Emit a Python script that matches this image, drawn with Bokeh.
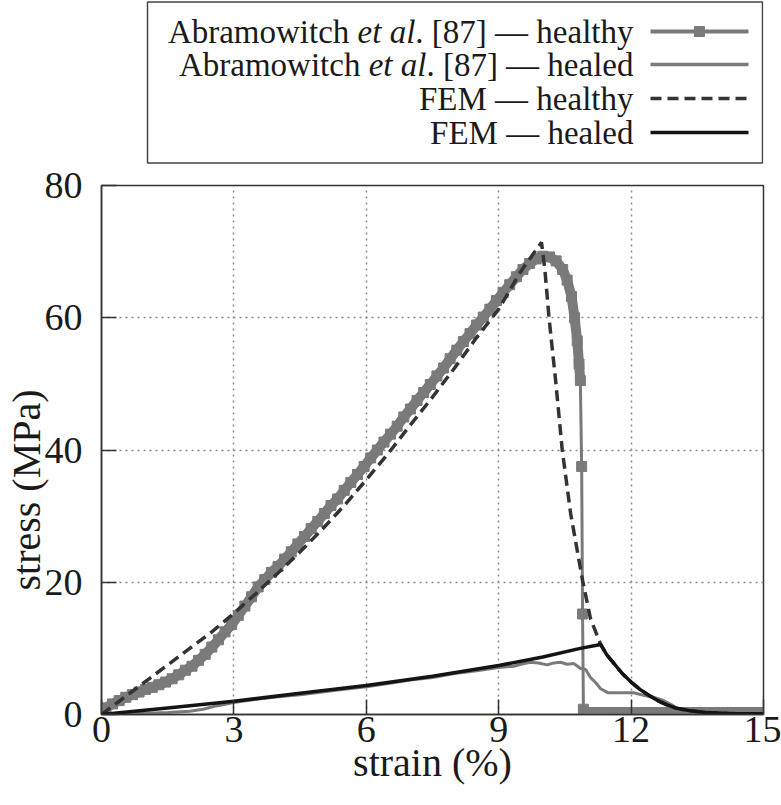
from bokeh.plotting import figure
from bokeh.models import Range1d, FixedTicker
from bokeh.layouts import column
from bokeh.core.properties import value
from bokeh.embed import file_html
from bokeh.resources import INLINE

# ---------------- data ----------------
exp_healthy_strain = [0.00, 0.10, 0.25, 0.40, 0.55, 0.70, 0.85, 1.00, 1.15, 1.30, 1.45, 1.60, 1.75, 1.90,
                      2.05, 2.20, 2.35, 2.50, 2.65, 2.80, 2.95, 3.10, 3.25, 3.40, 3.55, 3.70, 3.85, 4.00,
                      4.15, 4.30, 4.45, 4.60, 4.75, 4.90, 5.05, 5.20, 5.35, 5.50, 5.65, 5.80, 5.95, 6.10,
                      6.25, 6.40, 6.55, 6.70, 6.85, 7.00, 7.15, 7.30, 7.45, 7.60, 7.75, 7.90, 8.05, 8.20,
                      8.35, 8.50, 8.65, 8.80, 8.95, 9.10, 9.25, 9.40, 9.55, 9.70, 9.85, 10.00, 10.15, 10.30,
                      10.45, 10.55, 10.65, 10.72, 10.78, 10.82, 10.85, 10.88, 10.90, 10.92,
                      11.1, 11.3, 11.5, 11.7, 11.9, 12.1, 12.3, 12.5, 12.7, 12.9, 13.1, 13.3, 13.5, 13.7,
                      13.9, 14.1, 14.3, 14.5, 14.7, 14.9, 15.0]
exp_healthy_stress = [0.3, 1.0, 1.6, 2.1, 2.6, 3.0, 3.4, 3.8, 4.1, 4.5, 4.9, 5.4, 6.0, 6.7,
                      7.3, 8.2, 9.1, 10.2, 11.3, 12.5, 13.6, 15.0, 16.4, 17.8, 19.3, 20.4, 21.5, 22.4,
                      23.5, 24.6, 25.8, 26.9, 28.1, 29.2, 30.4, 31.6, 32.6, 33.9, 35.1, 36.3, 37.5, 38.8,
                      40.0, 41.2, 42.4, 43.6, 45.0, 46.2, 47.5, 48.7, 49.9, 51.2, 52.4, 53.8, 55.1, 56.4,
                      57.6, 58.9, 60.1, 61.3, 62.6, 63.8, 65.0, 66.2, 67.3, 68.2, 68.9, 69.3, 69.2, 68.6,
                      67.3, 65.7, 63.2, 60.0, 56.5, 53.0, 50.5, 37.5, 15.2, 0.8,
                      0.3, 0.3, 0.3, 0.3, 0.3, 0.3, 0.3, 0.3, 0.3, 0.3, 0.3, 0.3, 0.3, 0.3,
                      0.3, 0.3, 0.3, 0.3, 0.3, 0.3, 0.3]
N_BAND = 77  # points of the densely sampled (thick band) part, up to the drop

exp_healed_strain = [0.0, 0.5, 1.0, 1.5, 2.0, 2.3, 2.6, 3.0, 3.5, 4.0, 4.5, 5.0, 5.5, 6.0, 6.5, 7.0,
                     7.5, 8.0, 8.5, 9.0, 9.34, 9.5, 9.72, 9.9, 10.1, 10.25, 10.4, 10.55, 10.7, 10.85,
                     10.97, 11.08, 11.2, 11.31, 11.47, 11.8, 12.06, 12.28, 12.5, 12.7, 12.96, 13.1,
                     13.25, 15.0]
exp_healed_stress = [0.0, 0.1, 0.2, 0.3, 0.5, 0.8, 1.3, 1.8, 2.3, 2.7, 3.0, 3.4, 3.8, 4.2, 4.7, 5.2,
                     5.6, 6.2, 6.6, 7.1, 7.3, 7.6, 7.9, 7.8, 7.5, 7.8, 7.9, 7.6, 7.7, 7.0,
                     6.8, 5.6, 4.8, 3.9, 3.3, 3.3, 3.3, 2.9, 2.6, 2.2, 1.3, 0.5,
                     0.1, 0.1]

fem_healthy_strain = [0.0, 0.5, 1.0, 1.5, 2.0, 2.5, 3.0, 3.5, 4.0, 4.5, 5.0, 5.5, 6.0, 6.5, 7.0, 7.5,
                      8.0, 8.5, 9.0, 9.5, 9.97, 10.05, 10.14, 10.29, 10.44, 10.63, 10.9, 11.08, 11.31,
                      11.45, 11.6, 11.8, 12.0, 12.2, 12.4, 12.6, 12.8, 13.0, 13.3, 13.7, 14.2, 15.0]
fem_healthy_stress = [0.0, 2.5, 5.0, 7.5, 10.0, 12.5, 15.3, 18.3, 21.4, 24.6, 28.0, 31.6, 35.5, 39.5,
                      43.8, 48.0, 52.4, 57.0, 61.3, 67.0, 71.4, 67.0, 60.0, 50.5, 40.0, 30.4, 20.3,
                      14.5, 10.6, 9.0, 7.8, 6.2, 4.9, 3.8, 2.9, 2.1, 1.5, 1.0, 0.6, 0.3, 0.15, 0.1]

fem_healed_strain = [0.0, 1.5, 3.0, 4.5, 6.0, 7.5, 9.0, 10.0, 10.85, 11.31, 11.45, 11.6, 11.8, 12.0,
                     12.2, 12.4, 12.6, 12.8, 13.0, 13.3, 13.7, 14.2, 15.0]
fem_healed_stress = [0.0, 1.0, 2.0, 3.2, 4.4, 5.8, 7.4, 8.7, 10.0, 10.6, 9.0, 7.8, 6.2, 4.9,
                     3.8, 2.9, 2.1, 1.5, 1.0, 0.6, 0.3, 0.15, 0.1]

x_ticks = [0, 3, 6, 9, 12, 15]
y_ticks = [0, 20, 40, 60, 80]
x_label = "strain (%)"
y_label = "stress (MPa)"

legend_rows = [
    ["Abramowitch", "et al", ". [87] \u2014 healthy"],
    ["Abramowitch", "et al", ". [87] \u2014 healed"],
    ["FEM \u2014 healthy"],
    ["FEM \u2014 healed"],
]

# ---------------- styles ----------------
FONT = "Liberation Serif"
GREY = "#7a7a7a"
DARK = "#333333"
BLACK = "#141414"
LEG_FS = 33
TICK_FS = "38px"
LABEL_FS = "40px"
Y_LABEL_PAD = "\u00a0" * 8   # the reference's y label sits below the frame centre

W = 781
H_LEG = 164
H_MAIN = 641
BL, BR = 101, 18          # left / right borders shared by both panels
FL, FR = BL, W - BR        # frame extent in picture pixels

# ---------------- legend panel (data coordinates = picture pixels) ----------------
leg = figure(width=W, height=H_LEG, x_range=Range1d(FL, FR), y_range=Range1d(H_LEG, 0),
             toolbar_location=None, output_backend="svg",
             min_border_left=BL, min_border_right=BR, min_border_top=0, min_border_bottom=0,
             x_axis_location=None, y_axis_location=None, outline_line_color=None)
leg.xgrid.visible = False
leg.ygrid.visible = False
leg.quad(left=[147], right=[FR - 1], top=[1.5], bottom=[H_LEG - 1.5], fill_color=None,
         line_color="#444444", line_width=1.5)

# Times-metric widths (em/1000) for composing the mixed roman/italic rows
W_ABR = 5499
W_SP = 250
W_ETAL = 1750
W_R1 = 6610
W_R2 = 6276
row_y = [31, 64, 98, 132]
tx = 633
sc = LEG_FS / 1000.0

def txt(x, y, s, align="left", style="normal"):
    leg.text(x=[x], y=[y], text=[s], text_font=value(FONT), text_font_size=value(f"{LEG_FS}px"),
             text_align=align, text_baseline="middle", text_font_style=style, text_color="#1a1a1a")

for i, wr in enumerate([W_R1, W_R2]):
    y = row_y[i]
    x0 = tx - (W_ABR + W_SP + W_ETAL + wr) * sc
    txt(x0, y, legend_rows[i][0])
    txt(x0 + (W_ABR + W_SP) * sc, y, legend_rows[i][1], style="italic")
    txt(x0 + (W_ABR + W_SP + W_ETAL) * sc, y, legend_rows[i][2])
txt(tx, row_y[2], legend_rows[2][0], align="right")
txt(tx, row_y[3], legend_rows[3][0], align="right")

lx = [650, 748]
leg.line(lx, [row_y[0]] * 2, line_color=GREY, line_width=4)
leg.scatter([699], [row_y[0]], marker="square", size=10, fill_color=GREY, line_color=GREY)
leg.line(lx, [row_y[1]] * 2, line_color=GREY, line_width=3.5)
leg.line(lx, [row_y[2]] * 2, line_color=DARK, line_width=3.5, line_dash="11 6")
leg.line(lx, [row_y[3]] * 2, line_color=BLACK, line_width=3.5)

# ---------------- main plot ----------------
p = figure(width=W, height=H_MAIN, x_range=Range1d(0, 15), y_range=Range1d(0, 80),
           toolbar_location=None, output_backend="svg",
           min_border_left=BL, min_border_right=BR, min_border_top=185 - H_LEG,
           min_border_bottom=H_LEG + H_MAIN - 714)

p.line(exp_healed_strain, exp_healed_stress, line_color=GREY, line_width=3)
p.line(exp_healthy_strain, exp_healthy_stress, line_color=GREY, line_width=3)
p.line(exp_healthy_strain[:N_BAND], exp_healthy_stress[:N_BAND], line_color=GREY, line_width=10)
p.scatter(exp_healthy_strain, exp_healthy_stress, marker="square", size=10,
          fill_color=GREY, line_color=GREY)
p.line(fem_healthy_strain, fem_healthy_stress, line_color=DARK, line_width=3.5, line_dash="11 6")
p.line(fem_healed_strain, fem_healed_stress, line_color=BLACK, line_width=3.5)

p.outline_line_color = DARK
p.outline_line_width = 1.5

p.xaxis.ticker = FixedTicker(ticks=x_ticks)
p.yaxis.ticker = FixedTicker(ticks=y_ticks)
p.xgrid.ticker = FixedTicker(ticks=x_ticks[1:-1])
p.ygrid.ticker = FixedTicker(ticks=y_ticks[1:-1])
for g in (p.xgrid, p.ygrid):
    g.grid_line_color = "#8a8a8a"
    g.grid_line_dash = "2 4"
    g.grid_line_width = 1.5

p.xaxis.axis_label = x_label
p.yaxis.axis_label = y_label + Y_LABEL_PAD
for ax in (p.xaxis, p.yaxis):
    ax.axis_line_color = DARK
    ax.axis_line_width = 1.5
    ax.major_tick_line_color = DARK
    ax.major_tick_line_width = 1.5
    ax.major_tick_in = 15
    ax.major_tick_out = 0
    ax.minor_tick_line_color = None
    ax.major_label_text_font = FONT
    ax.major_label_text_font_size = TICK_FS
    ax.major_label_text_color = "#1a1a1a"
    ax.axis_label_text_font = FONT
    ax.axis_label_text_font_size = LABEL_FS
    ax.axis_label_text_font_style = "normal"
    ax.axis_label_text_color = "#1a1a1a"
p.yaxis.major_label_standoff = 19
p.yaxis.axis_label_standoff = -7
p.xaxis.major_label_standoff = 2
p.xaxis.axis_label_standoff = -5

layout = column(leg, p, spacing=0)
open("out.html", "w").write(file_html(layout, INLINE))
